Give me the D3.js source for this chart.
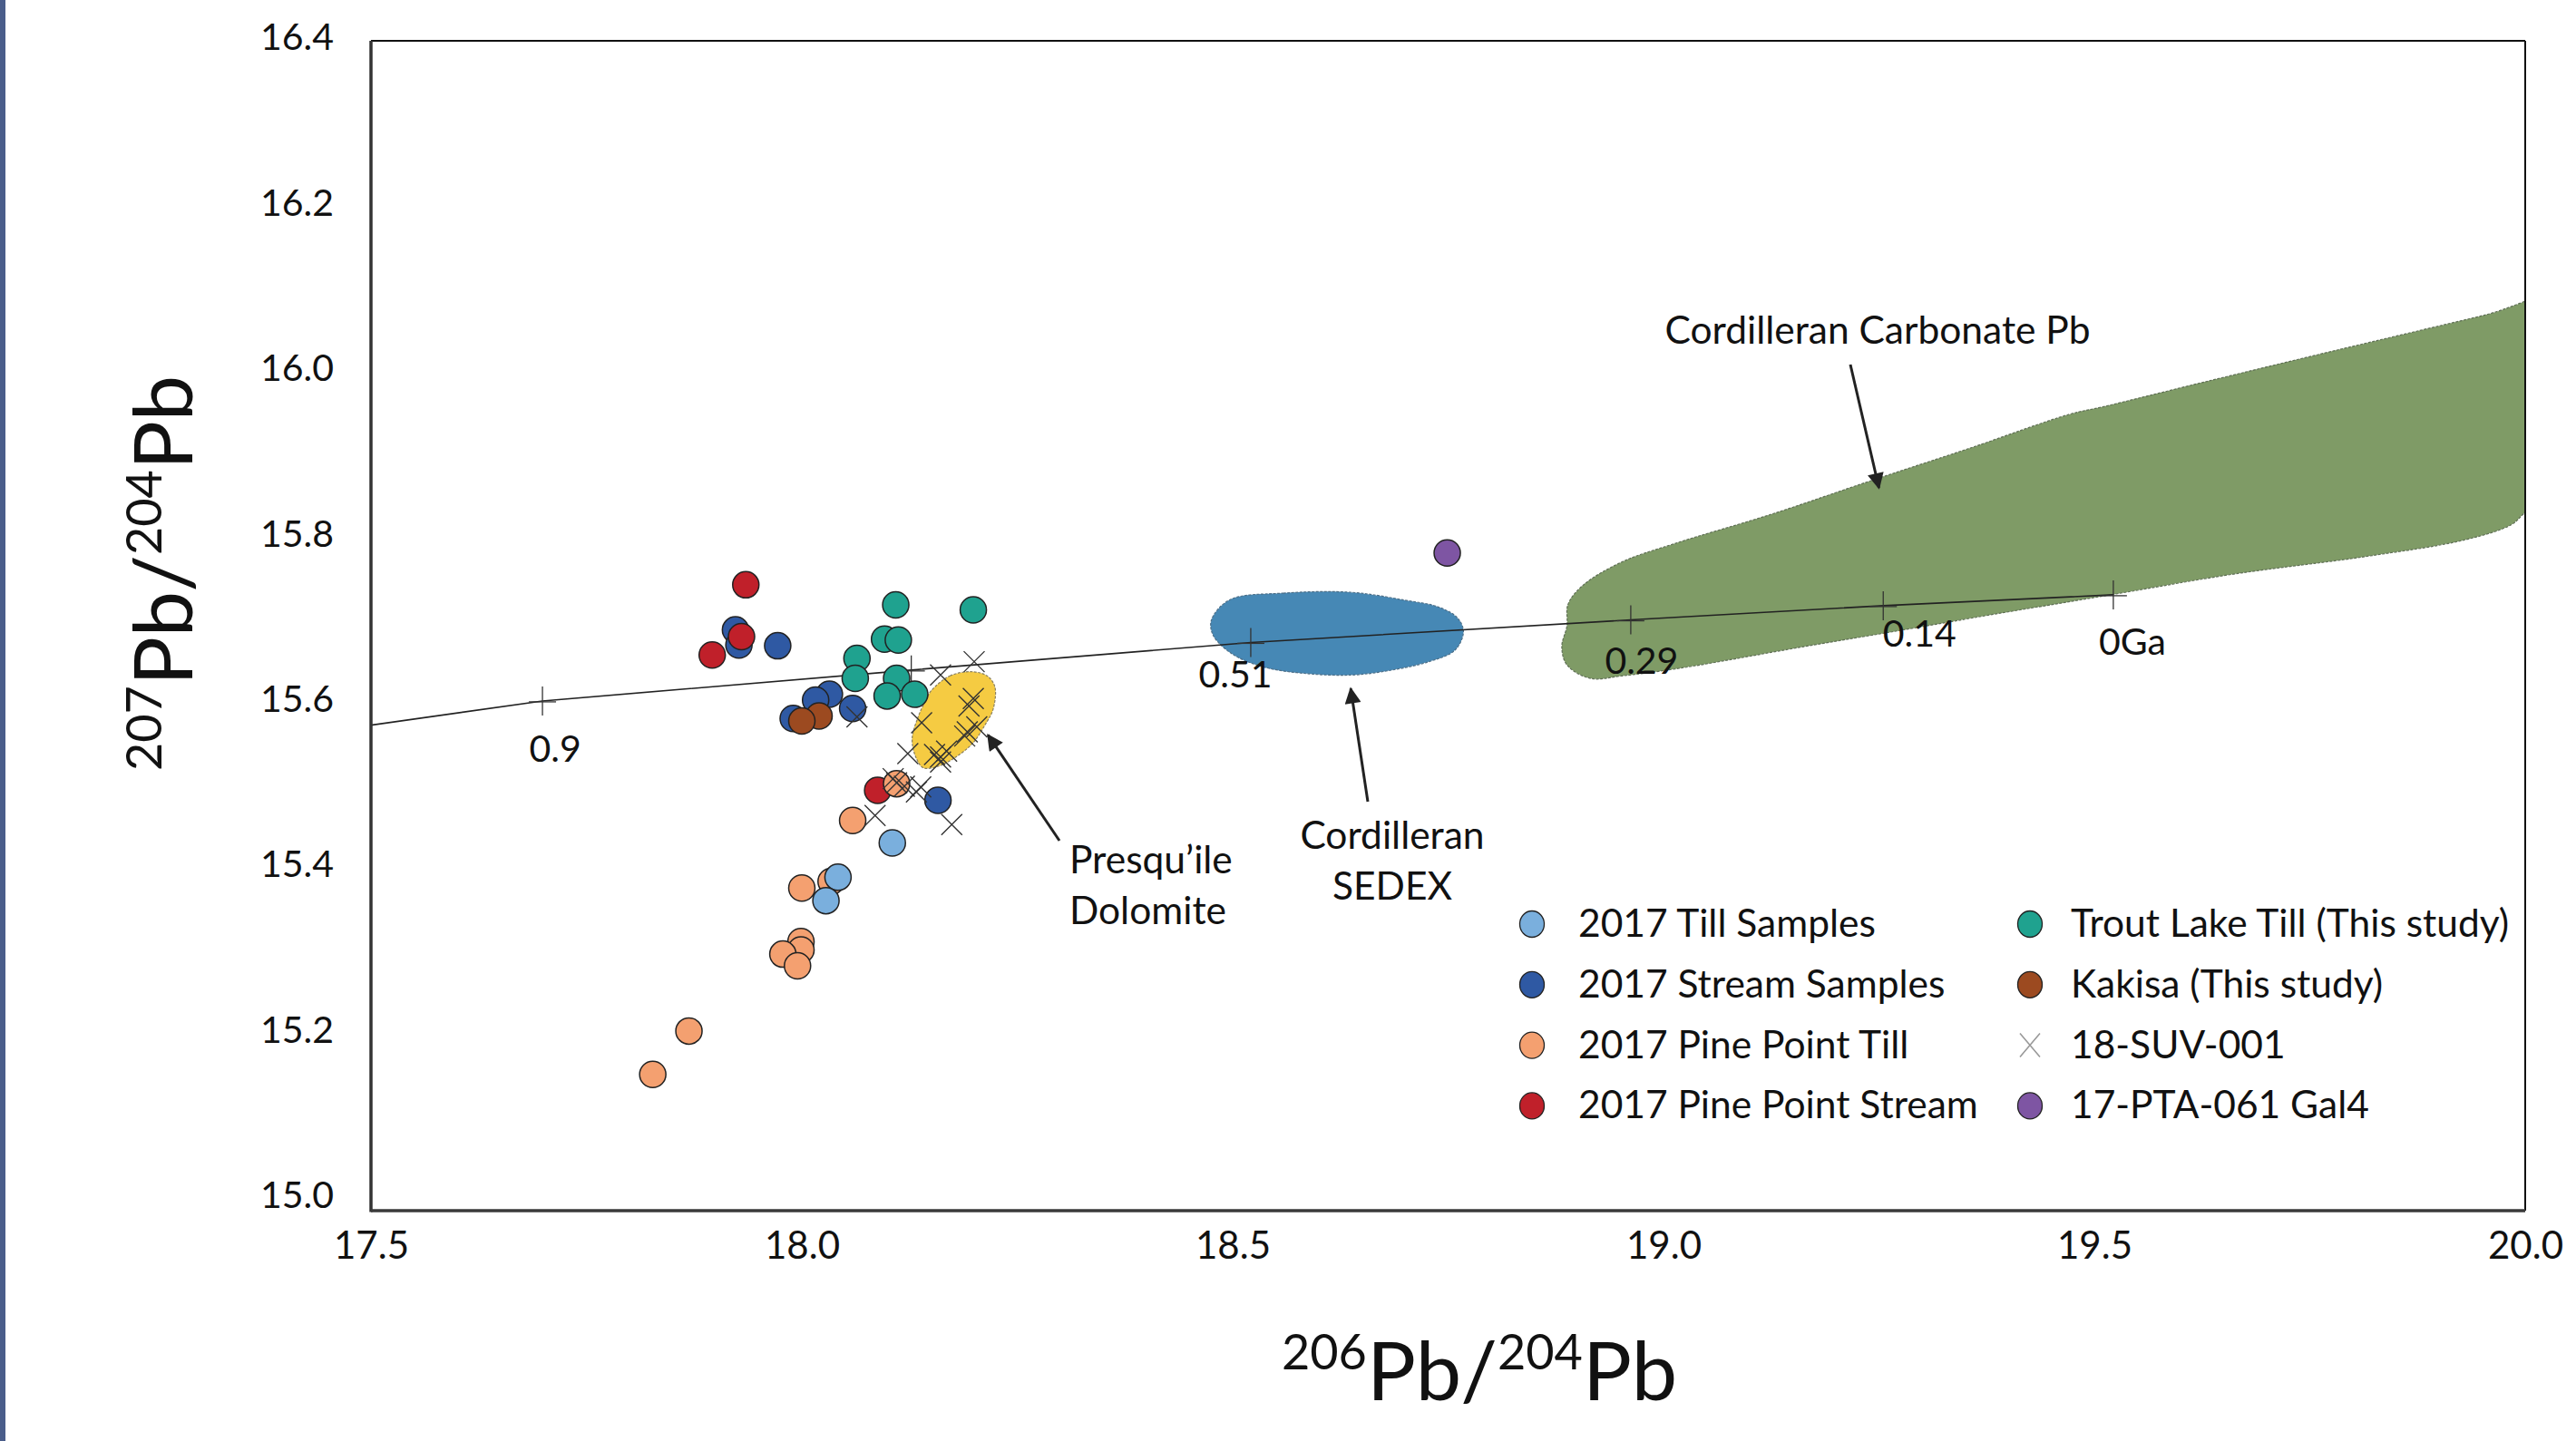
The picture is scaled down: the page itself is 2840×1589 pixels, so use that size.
<!DOCTYPE html>
<html>
<head>
<meta charset="utf-8">
<script src="https://cdn.jsdelivr.net/npm/d3@7"></script>
<style>
  body { margin: 0; background: #fff; }
  svg { display: block; }
</style>
</head>
<body>
<script>
// ---- data ----
var xTicks = [17.5, 18.0, 18.5, 19.0, 19.5, 20.0];
var yTicks = [15.0, 15.2, 15.4, 15.6, 15.8, 16.0, 16.2, 16.4];

var tillSamples = [[18.105, 15.440], [18.042, 15.399], [18.028, 15.371]];
var streamSamples = [[17.923, 15.695], [17.927, 15.677], [17.972, 15.676], [18.032, 15.618],
  [18.016, 15.611], [17.990, 15.589], [18.059, 15.601], [18.158, 15.491]];
var pinePointTill = [[18.034, 15.394], [18.110, 15.511], [18.059, 15.467], [18.000, 15.386],
  [17.999, 15.322], [17.999, 15.312], [17.978, 15.307], [17.995, 15.293], [17.869, 15.215], [17.827, 15.163]];
var pinePointStream = [[17.935, 15.749], [17.896, 15.665], [18.088, 15.503], [17.930, 15.687]];
var troutLake = [[18.109, 15.725], [18.199, 15.719], [18.096, 15.684], [18.112, 15.683], [18.064, 15.661],
  [18.062, 15.637], [18.110, 15.637], [18.099, 15.616], [18.131, 15.618]];
var kakisa = [[18.020, 15.592], [18.000, 15.586]];
var suv001 = [[18.200, 15.657], [18.161, 15.641], [18.064, 15.591], [18.199, 15.613], [18.194, 15.604],
  [18.139, 15.584], [18.192, 15.573], [18.203, 15.579], [18.189, 15.568], [18.123, 15.547],
  [18.154, 15.546], [18.161, 15.543], [18.168, 15.550], [18.161, 15.537], [18.110, 15.512],
  [18.106, 15.517], [18.119, 15.508], [18.133, 15.501], [18.138, 15.507], [18.085, 15.473], [18.174, 15.462]];
var pta061 = [[18.749, 15.787]];

// growth curve (model ages in Ga)
var curveX = [17.5, 17.699, 18.127, 18.521, 18.962, 19.255, 19.522];
var curveY = [15.581, 15.610, 15.647, 15.680, 15.707, 15.724, 15.737];
var curveAge = ["", "0.9", "", "0.51", "0.29", "0.14", "0Ga"];
var curveTick = [false, true, true, true, true, true, true];

// fields (the carbonate field runs past the right frame and is clipped)
var carbonateField = [[18.888, 15.700], [18.889, 15.725], [18.905, 15.747], [18.951, 15.776], [19.012, 15.798],
  [19.127, 15.834], [19.242, 15.874], [19.357, 15.913], [19.471, 15.953], [19.510, 15.962], [19.625, 15.991],
  [19.778, 16.029], [19.950, 16.071], [20.12, 16.113], [20.12, 15.880], [20.005, 15.839], [19.984, 15.821],
  [19.931, 15.803], [19.816, 15.783],
  [19.663, 15.762], [19.525, 15.738], [19.385, 15.714], [19.284, 15.696], [19.163, 15.675], [19.018, 15.649],
  [18.952, 15.640], [18.915, 15.637], [18.888, 15.653], [18.882, 15.675]];
var sedexField = [[18.4965, 15.731], [18.5587, 15.739], [18.6373, 15.740], [18.6977, 15.731], [18.740, 15.722],
  [18.7612, 15.709], [18.7678, 15.693], [18.7582, 15.671], [18.7279, 15.657], [18.6796, 15.646],
  [18.6373, 15.641], [18.583, 15.643], [18.5345, 15.651], [18.4983, 15.667], [18.4772, 15.689], [18.4754, 15.707]];
var presquileField = [[18.150, 15.622], [18.172, 15.640], [18.196, 15.645], [18.215, 15.640], [18.224, 15.627],
  [18.222, 15.600], [18.213, 15.582], [18.198, 15.559], [18.176, 15.541], [18.159, 15.532], [18.141, 15.530],
  [18.133, 15.541], [18.128, 15.564], [18.135, 15.591], [18.143, 15.609]];

// ---- layout ----
var W = 2840, H = 1589;
var FONT = "Lato, 'Open Sans', sans-serif";
var pLeft = 409, pRight = 2784, pTop = 45, pBottom = 1335;

var x = d3.scaleLinear().domain([17.5, 20.0]).range([pLeft, pRight]);
var y = d3.scaleLinear().domain([15.0, 16.4]).range([pBottom, pTop]);
// y labels in the source sit on a slightly tighter spacing than the frame
var yLab = d3.scaleLinear().domain([15.0, 16.4]).range([1317, 40]);

var svg = d3.select("body").append("svg")
  .attr("width", W).attr("height", H)
  .style("font-family", FONT);

svg.append("rect").attr("width", W).attr("height", H).attr("fill", "#fff");
// slide edge bar
svg.append("rect").attr("x", 0).attr("y", 0).attr("width", 6).attr("height", H).attr("fill", "#4a5d8a");

var defs = svg.append("defs");
defs.append("clipPath").attr("id", "plotclip")
  .append("rect").attr("x", pLeft).attr("y", pTop).attr("width", pRight - pLeft).attr("height", pBottom - pTop);
defs.append("marker")
  .attr("id", "arrow")
  .attr("viewBox", "0 0 10 10")
  .attr("refX", 9).attr("refY", 5)
  .attr("markerUnits", "userSpaceOnUse")
  .attr("markerWidth", 24).attr("markerHeight", 18)
  .attr("orient", "auto")
  .append("path").attr("d", "M0,0 L10,5 L0,10 Z").attr("fill", "#222");

var plot = svg.append("g").attr("clip-path", "url(#plotclip)");

var area = d3.line()
  .x(function(d) { return x(d[0]); })
  .y(function(d) { return y(d[1]); })
  .curve(d3.curveCatmullRomClosed.alpha(0.5));

plot.append("path").datum(carbonateField)
  .attr("d", area).attr("fill", "#7f9b66")
  .attr("stroke", "#5f6f55").attr("stroke-width", 1.2).attr("stroke-dasharray", "3,1.5");
plot.append("path").datum(sedexField)
  .attr("d", area).attr("fill", "#4688b5")
  .attr("stroke", "#4d6f88").attr("stroke-width", 1.2).attr("stroke-dasharray", "3,1.5");
plot.append("path").datum(presquileField)
  .attr("d", area).attr("fill", "#f5cb42")
  .attr("stroke", "#8a8060").attr("stroke-width", 1.2).attr("stroke-dasharray", "3,1.5");

// growth curve
var curvePts = curveX.map(function(v, i) { return [v, curveY[i], curveAge[i], curveTick[i]]; });
plot.append("path").datum(curvePts)
  .attr("d", d3.line().x(function(d) { return x(d[0]); }).y(function(d) { return y(d[1]); }))
  .attr("fill", "none").attr("stroke", "#222").attr("stroke-width", 1.6);

var tickPts = curvePts.filter(function(d) { return d[3]; });
plot.selectAll("line.cv").data(tickPts).enter().append("line").attr("class", "cv")
  .attr("x1", function(d) { return x(d[0]); }).attr("x2", function(d) { return x(d[0]); })
  .attr("y1", function(d) { return y(d[1]) - 16; }).attr("y2", function(d) { return y(d[1]) + 16; })
  .attr("stroke", "#333").attr("stroke-width", 1.3);
plot.selectAll("line.ch").data(tickPts).enter().append("line").attr("class", "ch")
  .attr("x1", function(d) { return x(d[0]) - 15; }).attr("x2", function(d) { return x(d[0]) + 15; })
  .attr("y1", function(d) { return y(d[1]) + 1; }).attr("y2", function(d) { return y(d[1]) + 1; })
  .attr("stroke", "#333").attr("stroke-width", 1.3);

var ageOffsets = {"0.9": [14, 67], "0.51": [-17, 50], "0.29": [12, 59], "0.14": [40, 45], "0Ga": [21, 66]};
svg.selectAll("text.age").data(tickPts.filter(function(d) { return d[2] !== ""; }))
  .enter().append("text").attr("class", "age")
  .attr("x", function(d) { return x(d[0]) + ageOffsets[d[2]][0]; })
  .attr("y", function(d) { return y(d[1]) + ageOffsets[d[2]][1]; })
  .attr("text-anchor", "middle")
  .style("font-size", "41px").attr("fill", "#111")
  .text(function(d) { return d[2]; });

// circles
var series = [
  {data: streamSamples, color: "#2f59a3"},
  {data: pinePointStream, color: "#c0202a"},
  {data: pinePointTill, color: "#f4a070"},
  {data: tillSamples, color: "#7aafdd"},
  {data: troutLake, color: "#1fa28f"},
  {data: kakisa, color: "#9c4a20"},
  {data: pta061, color: "#7e55a3"}
];
series.forEach(function(s) {
  plot.append("g").selectAll("circle").data(s.data).enter().append("circle")
    .attr("cx", function(d) { return x(d[0]); })
    .attr("cy", function(d) { return y(d[1]); })
    .attr("r", 14.5)
    .attr("fill", s.color)
    .attr("stroke", "#222").attr("stroke-width", 1.5);
});

// crosses
var cr = 11.5;
plot.append("g").selectAll("path").data(suv001).enter().append("path")
  .attr("d", function(d) {
    var cx = x(d[0]), cy = y(d[1]);
    return "M" + (cx - cr) + "," + (cy - cr) + "L" + (cx + cr) + "," + (cy + cr) +
           "M" + (cx - cr) + "," + (cy + cr) + "L" + (cx + cr) + "," + (cy - cr);
  })
  .attr("stroke", "#333").attr("stroke-width", 1.4).attr("fill", "none");

// frame
svg.append("line").attr("x1", pLeft).attr("x2", pRight).attr("y1", pTop).attr("y2", pTop)
  .attr("stroke", "#111").attr("stroke-width", 2);
svg.append("line").attr("x1", pRight).attr("x2", pRight).attr("y1", pTop).attr("y2", pBottom)
  .attr("stroke", "#111").attr("stroke-width", 2);
svg.append("line").attr("x1", pLeft).attr("x2", pLeft).attr("y1", pTop).attr("y2", pBottom + 1.5)
  .attr("stroke", "#333").attr("stroke-width", 3.5);
svg.append("line").attr("x1", pLeft).attr("x2", pRight).attr("y1", pBottom).attr("y2", pBottom)
  .attr("stroke", "#3a3a3a").attr("stroke-width", 3.5);

// axes labels
var xAxis = svg.append("g").attr("transform", "translate(0," + 1388 + ")")
  .call(d3.axisBottom(x).tickValues(xTicks).tickSize(0).tickPadding(0).tickFormat(d3.format(".1f")));
xAxis.select(".domain").remove();
xAxis.selectAll("text").style("font-size", "42px").style("font-family", FONT).attr("fill", "#111")
  .attr("dy", 0).attr("y", 0);

var yAxis = svg.append("g").attr("transform", "translate(368,0)")
  .call(d3.axisLeft(yLab).tickValues(yTicks).tickSize(0).tickPadding(0).tickFormat(d3.format(".1f")));
yAxis.select(".domain").remove();
yAxis.selectAll("text").style("font-size", "41px").style("font-family", FONT).attr("fill", "#111")
  .attr("dy", "0.36em").attr("x", 0);

// axis titles
var xt = svg.append("text").attr("x", 1631).attr("y", 1544).attr("text-anchor", "middle")
  .attr("fill", "#111").style("font-size", "90px");
xt.append("tspan").style("font-size", "54px").attr("dy", -34).text("206");
xt.append("tspan").attr("dy", 34).text("Pb/");
xt.append("tspan").style("font-size", "54px").attr("dy", -34).text("204");
xt.append("tspan").attr("dy", 34).text("Pb");

var yt = svg.append("text").attr("transform", "translate(212,632) rotate(-90)").attr("text-anchor", "middle")
  .attr("fill", "#111").style("font-size", "90px");
yt.append("tspan").style("font-size", "54px").attr("dy", -34).text("207");
yt.append("tspan").attr("dy", 34).text("Pb/");
yt.append("tspan").style("font-size", "54px").attr("dy", -34).text("204");
yt.append("tspan").attr("dy", 34).text("Pb");

// annotations
function note(lines, tx, ty, anchor, lh) {
  var t = svg.append("text").attr("text-anchor", anchor).attr("fill", "#111").style("font-size", "42.5px");
  lines.forEach(function(l, i) {
    t.append("tspan").attr("x", tx).attr("y", ty + i * lh).text(l);
  });
}
function arrow(x1, y1, x2, y2) {
  svg.append("line").attr("x1", x1).attr("y1", y1).attr("x2", x2).attr("y2", y2)
    .attr("stroke", "#222").attr("stroke-width", 3).attr("marker-end", "url(#arrow)");
}
note(["Cordilleran Carbonate Pb"], 2070, 379, "middle", 0);
arrow(2040, 402, x(19.25), y(15.865));
note(["Cordilleran", "SEDEX"], 1535, 936, "middle", 56);
arrow(1508, 884, x(18.637), y(15.640) + 14);
note(["Presqu\u2019ile", "Dolomite"], 1179, 963, "start", 56);
arrow(1168, 927, x(18.216), y(15.578) + 8);

// legend
var legendItems = [
  {name: "2017 Till Samples", color: "#7aafdd", shape: "circle"},
  {name: "2017 Stream Samples", color: "#2f59a3", shape: "circle"},
  {name: "2017 Pine Point Till", color: "#f4a070", shape: "circle"},
  {name: "2017 Pine Point Stream", color: "#c0202a", shape: "circle"},
  {name: "Trout Lake Till (This study)", color: "#1fa28f", shape: "circle"},
  {name: "Kakisa (This study)", color: "#9c4a20", shape: "circle"},
  {name: "18-SUV-001", color: "#999", shape: "cross"},
  {name: "17-PTA-061 Gal4", color: "#7e55a3", shape: "circle"}
];
var colX = [1689, 2238], colText = [51, 45], rowY0 = 1019, rowH = 66.8;
var lg = svg.append("g").selectAll("g").data(legendItems).enter().append("g")
  .attr("transform", function(d, i) {
    return "translate(" + colX[Math.floor(i / 4)] + "," + (rowY0 + (i % 4) * rowH) + ")";
  });
lg.filter(function(d) { return d.shape === "circle"; }).append("ellipse")
  .attr("rx", 13.5).attr("ry", 14.5).attr("fill", function(d) { return d.color; })
  .attr("stroke", "#222").attr("stroke-width", 1.3);
lg.filter(function(d) { return d.shape === "cross"; }).append("path")
  .attr("d", "M-11,-13L11,13M-11,13L11,-13").attr("stroke", function(d) { return d.color; })
  .attr("stroke-width", 1.6);
lg.append("text").attr("x", function(d, i) { return colText[Math.floor(i / 4)]; })
  .attr("y", 14).attr("fill", "#111").style("font-size", "42.5px")
  .text(function(d) { return d.name; });
</script>
</body>
</html>
